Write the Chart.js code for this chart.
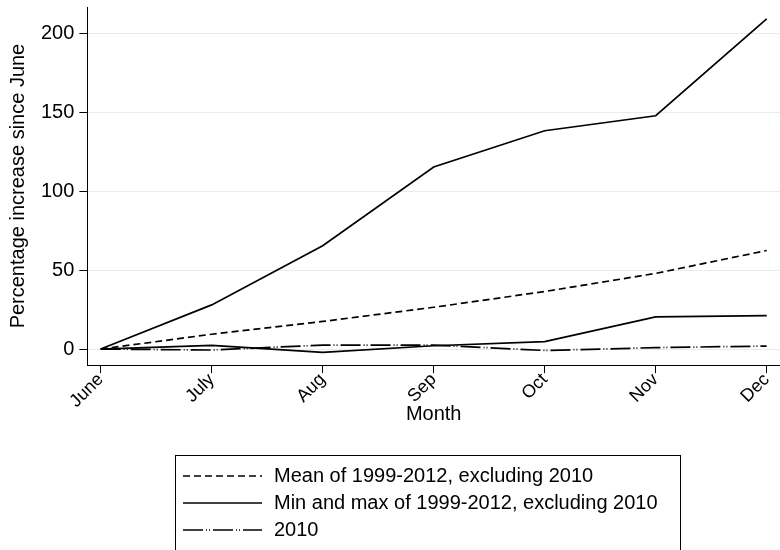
<!DOCTYPE html>
<html>
<head>
<meta charset="utf-8">
<script src="https://cdn.jsdelivr.net/npm/chart.js@4.4.1/dist/chart.umd.min.js"></script>
<style>
  html, body { margin: 0; padding: 0; background: #fff; }
  #wrap { width: 780px; height: 550px; }
</style>
</head>
<body>
<div id="wrap"><canvas id="c" width="780" height="550"></canvas></div>
<script>
// months on the x axis
const MONTHS = ['June', 'July', 'Aug', 'Sep', 'Oct', 'Nov', 'Dec'];

// % increase since June
const meanVals = [0, 9.4, 17.5, 26.5, 36.5, 48, 62.5];
const maxVals  = [0, 28, 65.5, 115.5, 138.5, 148, 209.5];
const minVals  = [0, 2.3, -2.1, 2.1, 4.7, 20.4, 21.2];
const y2010    = [0, -0.6, 2.5, 2.5, -0.9, 0.9, 1.9];

const yTicks = [0, 50, 100, 150, 200];

const FONT = 'Liberation Sans, Arial, sans-serif';

function pts(vals) {
  return vals.map((v, i) => ({ x: i, y: v }));
}

// legend drawn in a box below the plot, like the original
const boxLegend = {
  id: 'boxLegend',
  afterDraw(chart) {
    const ctx = chart.ctx;
    const items = chart.data.datasets.filter(d => !d.hideInLegend);
    ctx.save();
    ctx.strokeStyle = '#000';
    ctx.lineWidth = 1;
    ctx.setLineDash([]);
    ctx.strokeRect(175.5, 455.5, 505, 120);
    items.forEach((d, i) => {
      const y = 476 + i * 27;
      ctx.beginPath();
      ctx.lineWidth = d.borderWidth;
      ctx.strokeStyle = d.borderColor;
      ctx.setLineDash(d.borderDash || []);
      ctx.moveTo(183, y);
      ctx.lineTo(262, y);
      ctx.stroke();
      ctx.setLineDash([]);
      ctx.fillStyle = '#000';
      ctx.font = '20px ' + FONT;
      ctx.textBaseline = 'middle';
      ctx.textAlign = 'left';
      ctx.fillText(d.label, 274, y);
    });
    ctx.restore();
  }
};

new Chart(document.getElementById('c'), {
  type: 'line',
  data: {
    datasets: [
      { label: 'Mean of 1999-2012, excluding 2010', data: pts(meanVals), borderColor: '#000', borderWidth: 1.7, borderDash: [7, 4], pointRadius: 0, tension: 0 },
      { label: 'Min and max of 1999-2012, excluding 2010', data: pts(maxVals), borderColor: '#000', borderWidth: 1.7, pointRadius: 0, tension: 0 },
      { label: 'Min', data: pts(minVals), borderColor: '#000', borderWidth: 1.7, pointRadius: 0, tension: 0, hideInLegend: true },
      { label: '2010', data: pts(y2010), borderColor: '#000', borderWidth: 1.7, borderDash: [20, 3, 1, 2, 1, 3], pointRadius: 0, tension: 0 }
    ]
  },
  options: {
    responsive: false,
    animation: false,
    layout: { padding: { left: 6, right: 0, top: 7, bottom: 124 } },
    plugins: {
      legend: { display: false },
      tooltip: { enabled: false }
    },
    scales: {
      x: {
        type: 'linear',
        min: -0.12,
        max: 6.12,
        afterFit: axis => { axis.paddingLeft = 0; axis.paddingRight = 0; },
        ticks: {
          stepSize: 1,
          includeBounds: false,
          minRotation: 45,
          maxRotation: 45,
          padding: -4,
          color: '#000',
          font: { family: FONT, size: 18 },
          callback: v => MONTHS[v] !== undefined ? MONTHS[v] : ''
        },
        grid: { drawOnChartArea: false, tickColor: '#000', tickLength: 8 },
        border: { color: '#000', width: 1 },
        title: { display: true, text: 'Month', color: '#000', font: { family: FONT, size: 20 }, padding: { top: -6, bottom: 0 } }
      },
      y: {
        min: -10.2,
        max: 217,
        afterBuildTicks: axis => { axis.ticks = yTicks.map(v => ({ value: v })); },
        afterFit: axis => { axis.paddingTop = 0; axis.paddingBottom = 0; },
        ticks: {
          color: '#000',
          font: { family: FONT, size: 20 },
          padding: 5
        },
        grid: { color: '#e4eef0', tickColor: '#000', tickLength: 8 },
        border: { color: '#000', width: 1 },
        title: { display: true, text: 'Percentage increase since June', color: '#000', font: { family: FONT, size: 20 }, padding: { top: 0, bottom: 6 } }
      }
    }
  },
  plugins: [boxLegend]
});
</script>
</body>
</html>
